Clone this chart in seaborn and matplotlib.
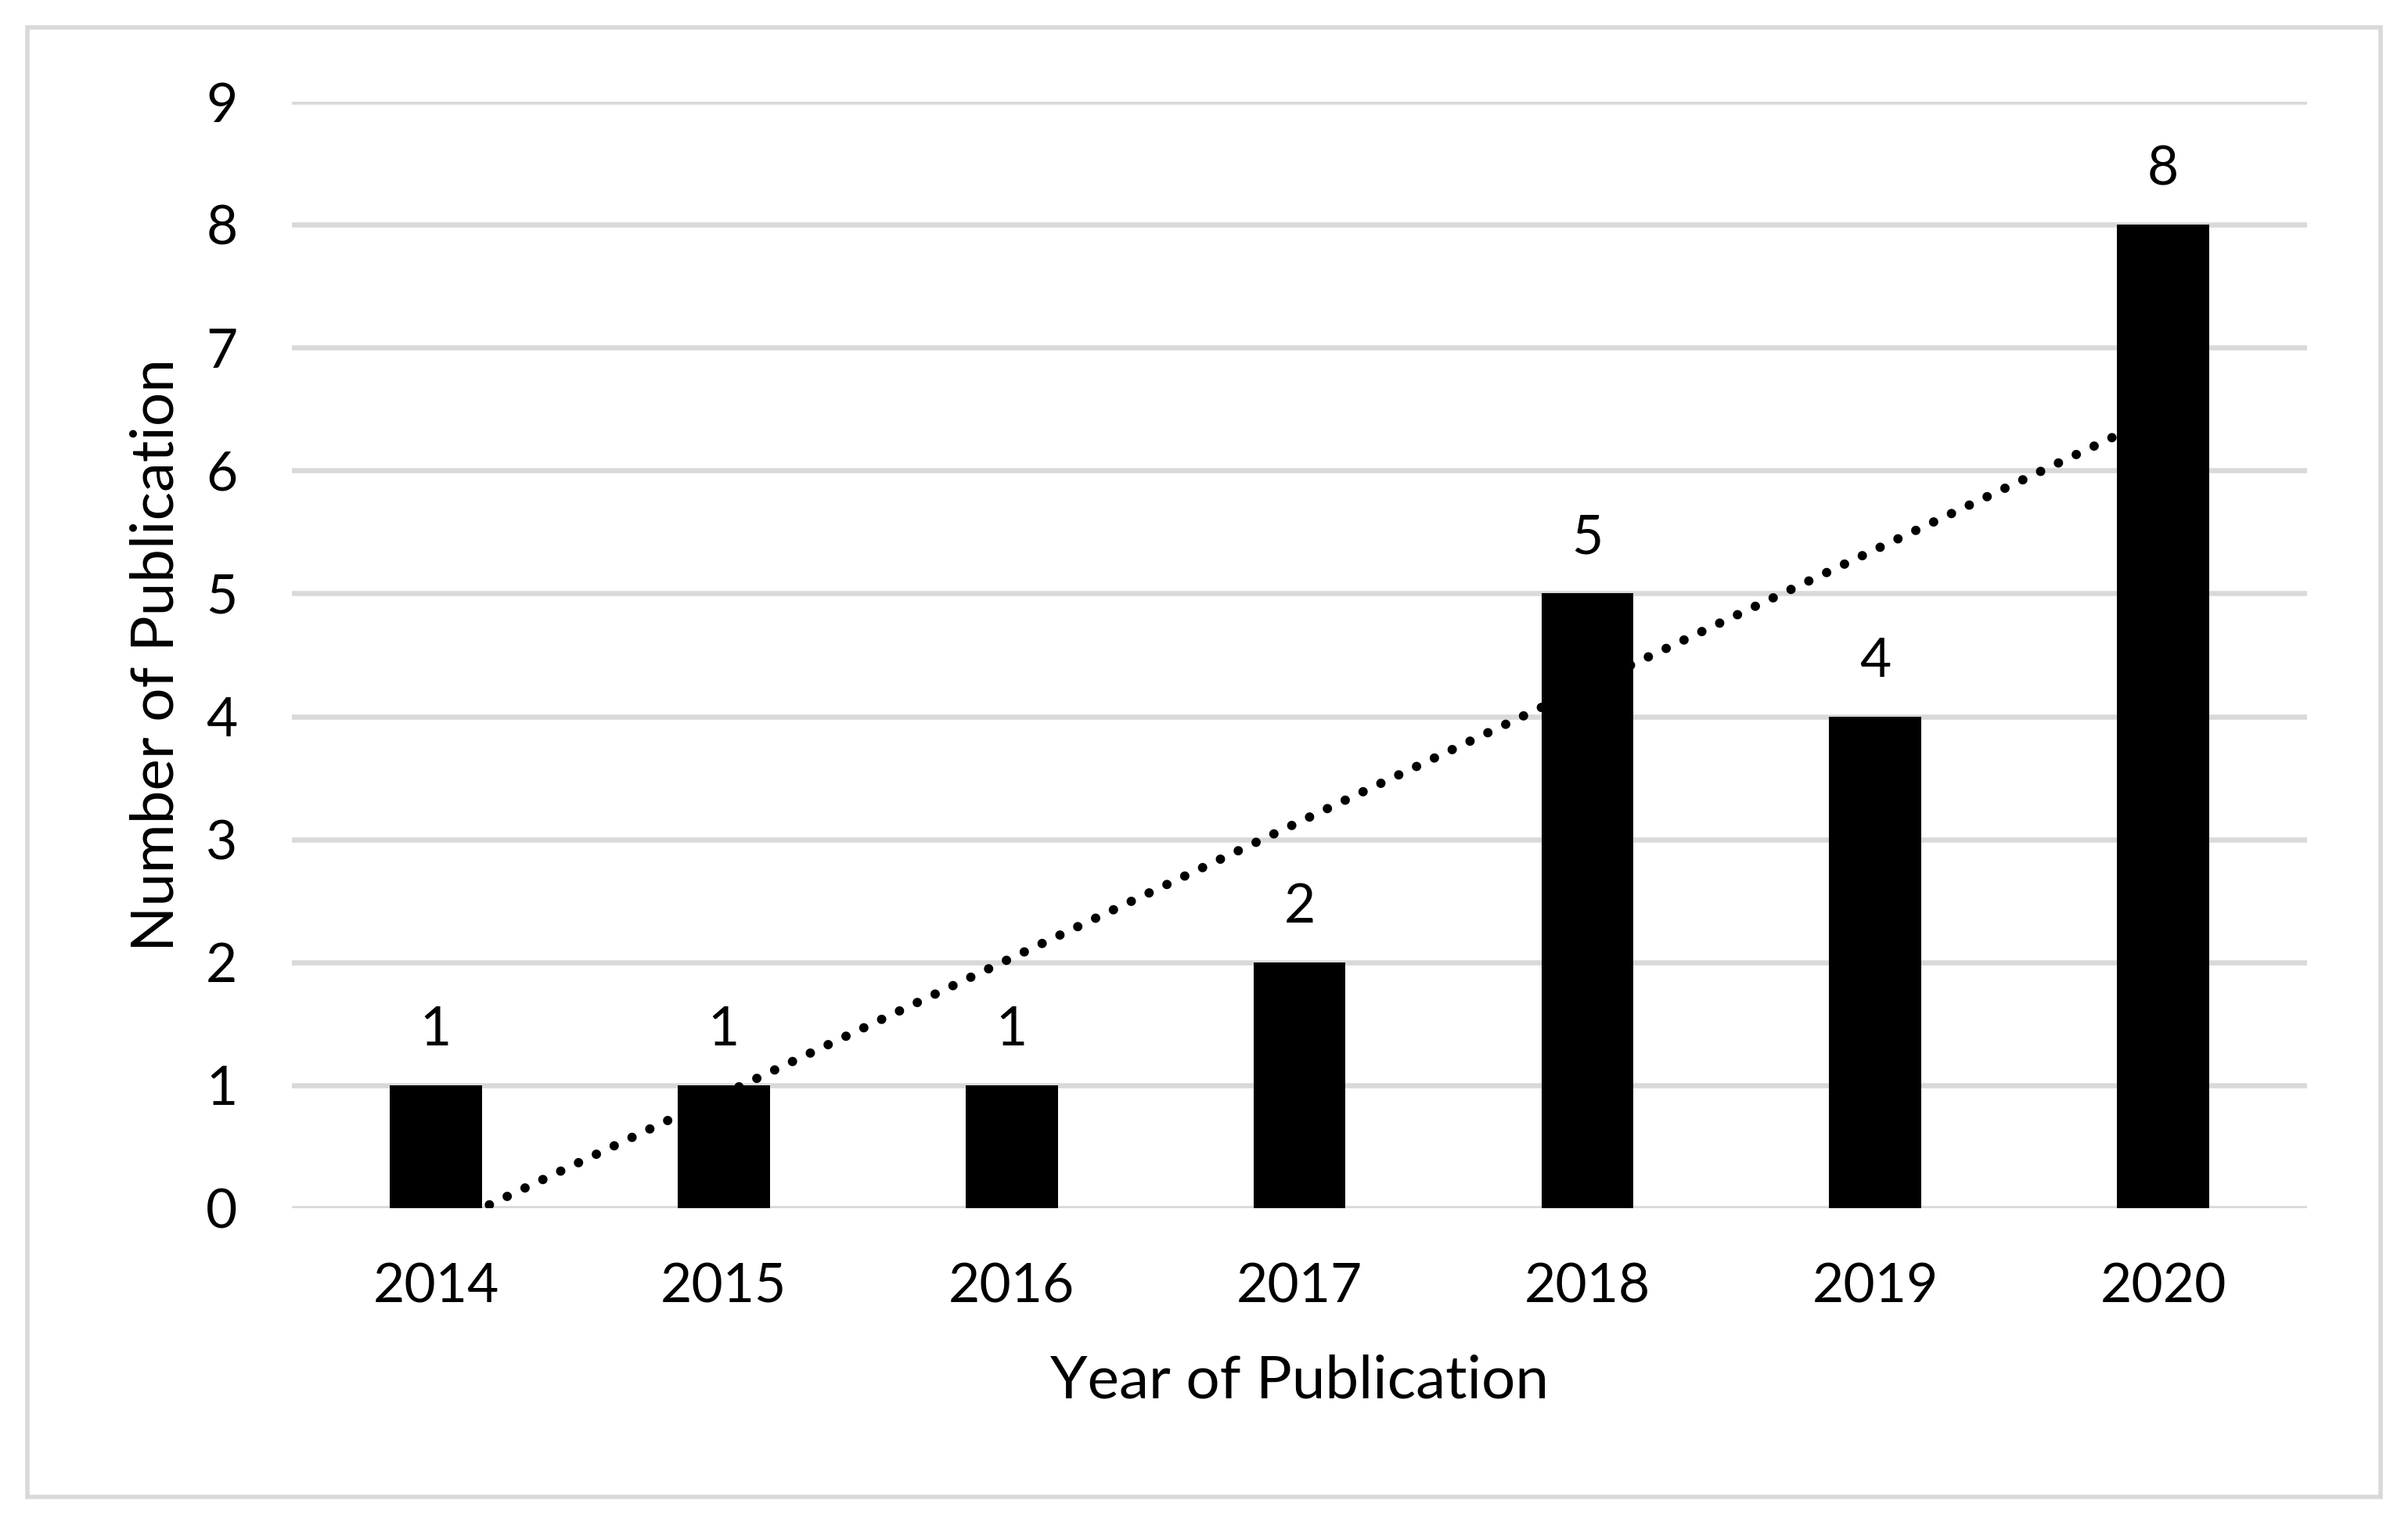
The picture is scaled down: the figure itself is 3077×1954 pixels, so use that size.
import matplotlib
matplotlib.use('Agg')
import matplotlib.pyplot as plt
from matplotlib.patches import Rectangle
import numpy as np
import seaborn as sns

# Data
years = ['2014', '2015', '2016', '2017', '2018', '2019', '2020']
counts = [1, 1, 1, 2, 5, 4, 8]

sns.set_theme(style='white')
plt.rcParams['font.family'] = ['Lato', 'DejaVu Sans']

fig = plt.figure(figsize=(30.77, 19.54), dpi=100)
ax = fig.add_axes([373 / 3077, 1 - 1544 / 1954, (2948 - 373) / 3077, (1544 - 130) / 1954])

# Bars
sns.barplot(x=years, y=counts, color='black', width=0.32, saturation=1,
            edgecolor='none', linewidth=0, ax=ax, zorder=3)

# Linear trendline (like Excel), drawn behind the bars
pos = np.arange(len(years))
slope, intercept = np.polyfit(pos + 1, counts, 1)
ax.plot(pos, slope * (pos + 1) + intercept, color='black', lw=8.6,
        linestyle=(0, (0.01, 2.1)), dash_capstyle='round', zorder=2)

# Value labels
ax.bar_label(ax.containers[0], labels=[str(c) for c in counts],
             padding=28, fontsize=50, color='black')

# Axes styling
ax.set_ylim(0, 9)
ax.set_xlim(-0.5, len(years) - 0.5)
ax.set_yticks(range(0, 10))
ax.yaxis.grid(True, color='#D9D9D9', linewidth=4.7, zorder=0)
ax.xaxis.grid(False)
ax.set_axisbelow(True)
for s in ax.spines.values():
    s.set_visible(False)
ax.tick_params(axis='both', length=0, labelsize=50, colors='black')
ax.tick_params(axis='y', pad=50)
ax.tick_params(axis='x', pad=50)

ax.set_xlabel('Year of Publication', fontsize=55, color='black', labelpad=39)
ax.set_ylabel('Number of Publication', fontsize=55, color='black', labelpad=21)

# Light grey chart frame
fig.add_artist(Rectangle((35 / 3077, 1 - 1913 / 1954), (3042 - 35) / 3077,
                         (1913 - 35) / 1954, transform=fig.transFigure,
                         fill=False, edgecolor='#D9D9D9', linewidth=4))

fig.savefig('out.png', dpi=100, facecolor='white')
